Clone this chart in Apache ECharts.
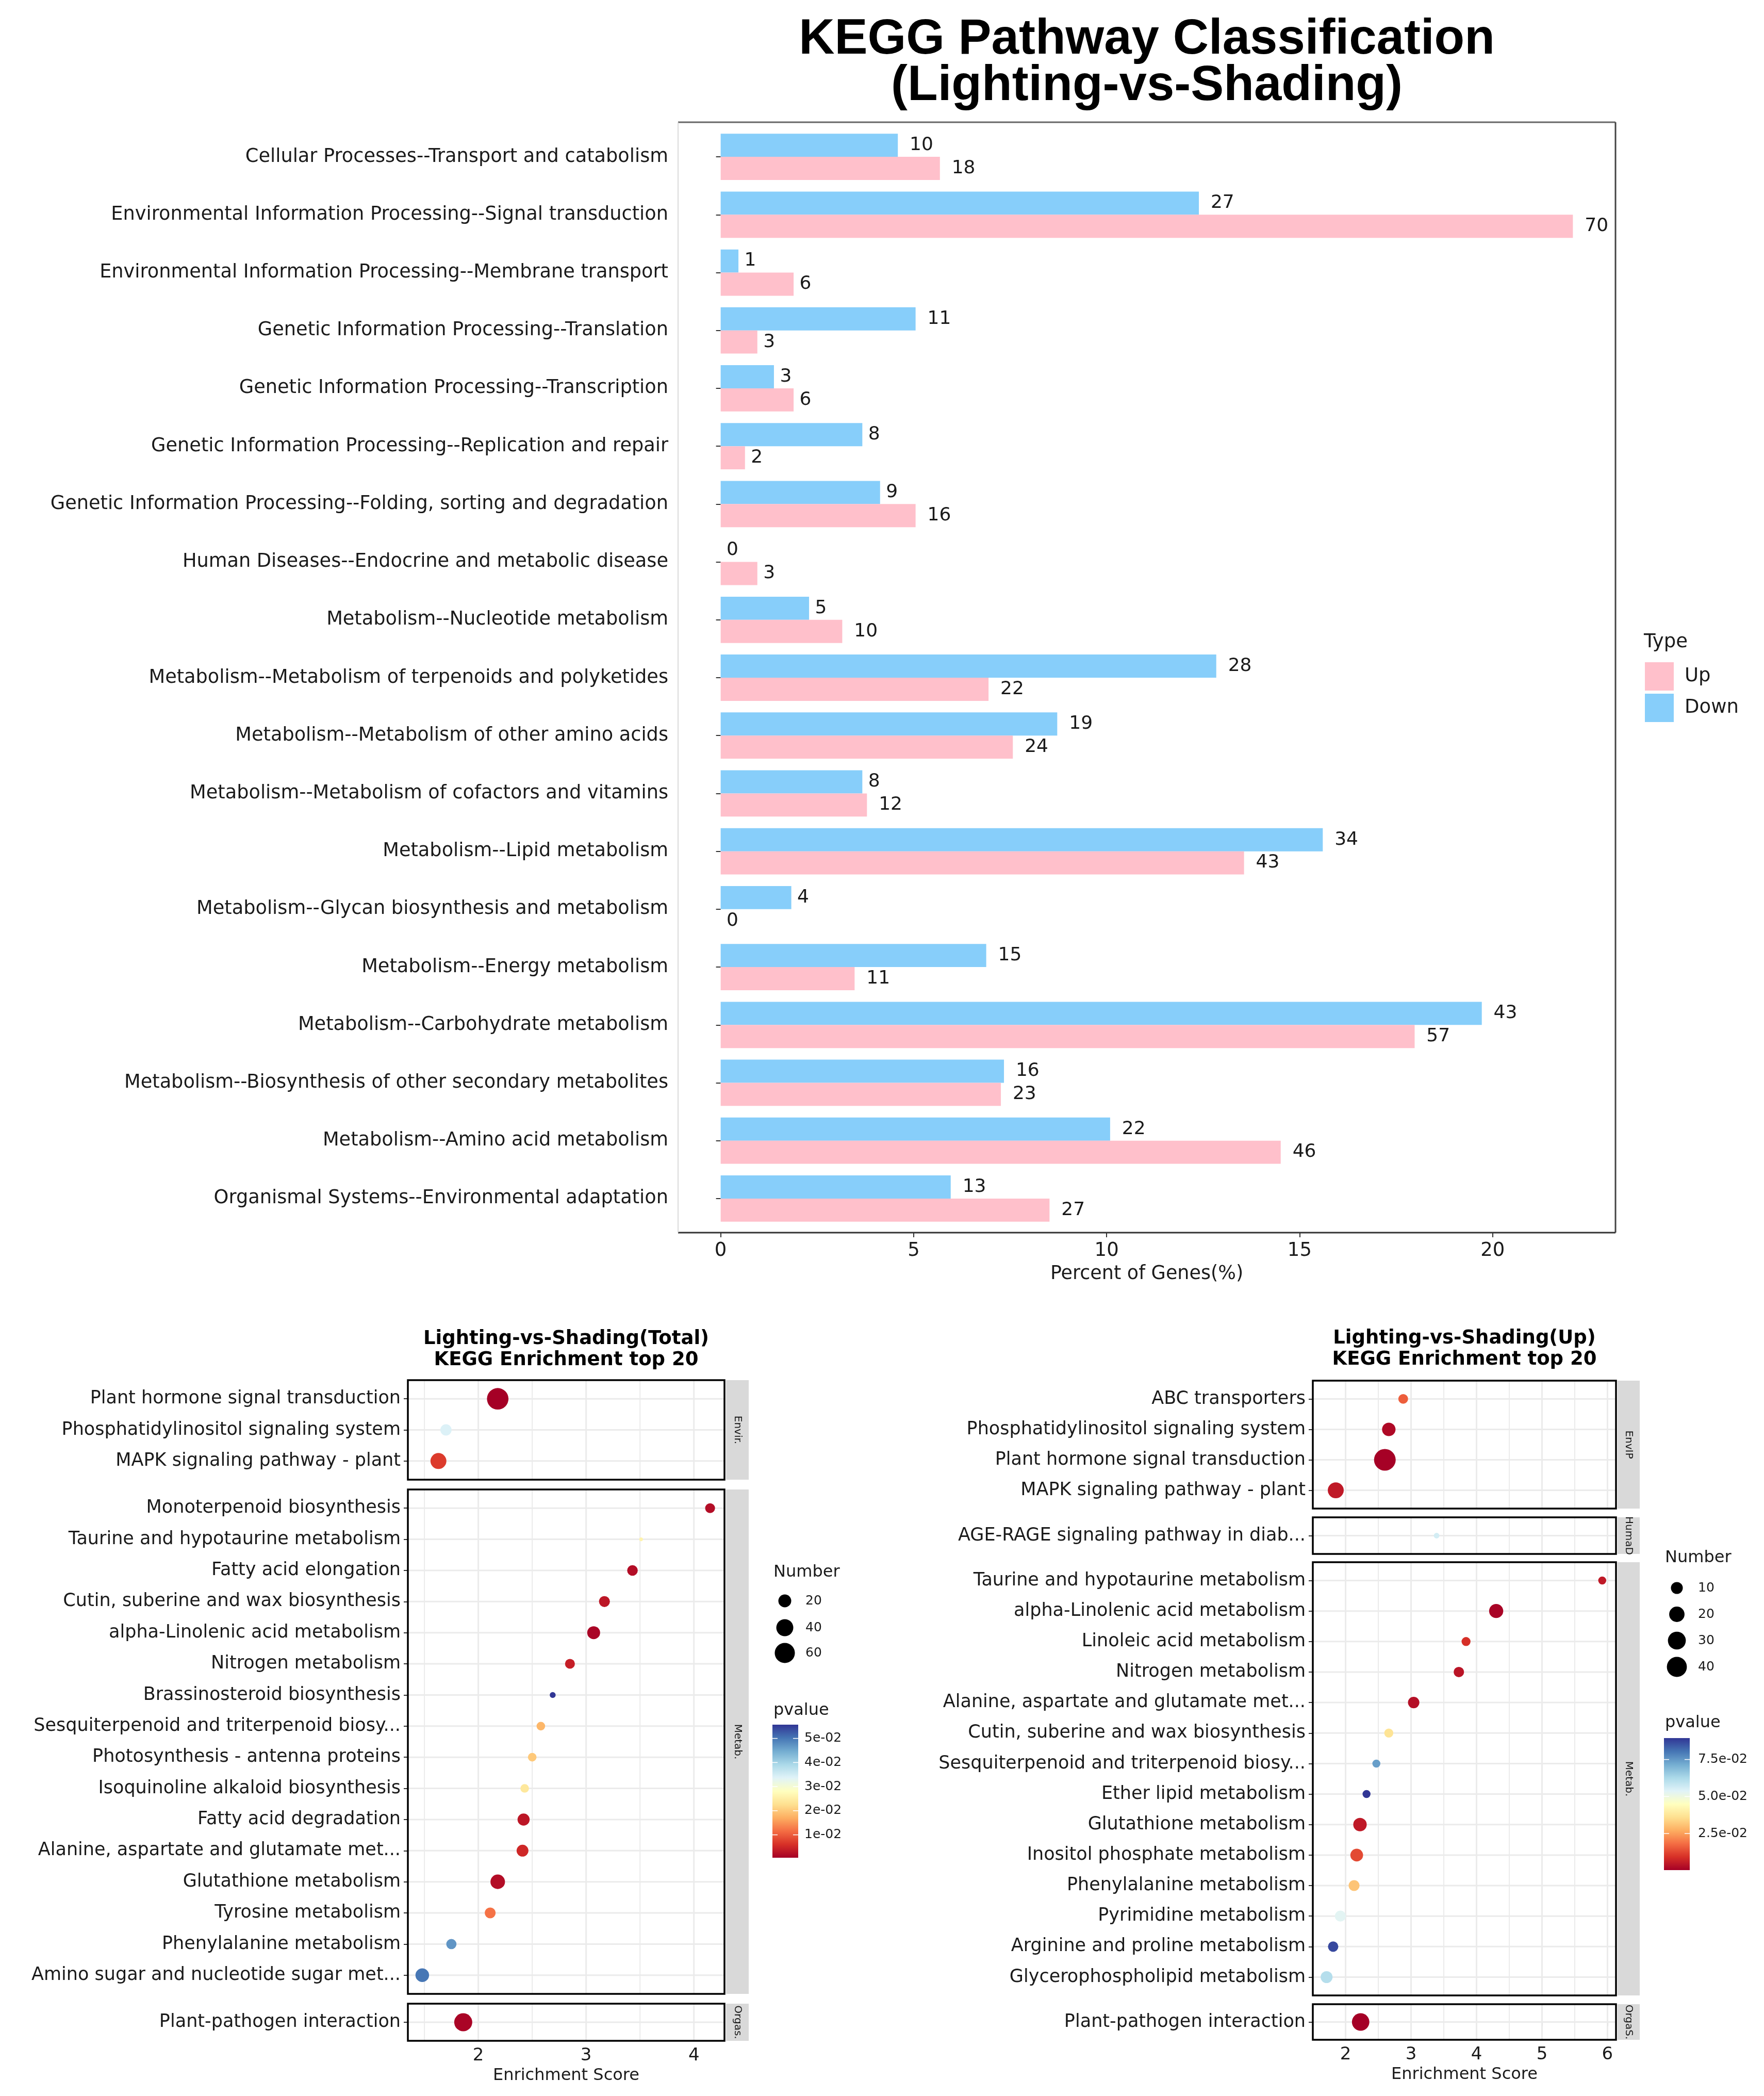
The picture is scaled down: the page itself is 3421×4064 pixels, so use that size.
<!DOCTYPE html>
<html><head><meta charset="utf-8">
<script src="https://cdn.jsdelivr.net/npm/echarts@6/dist/echarts.min.js"></script>
<style>html,body{margin:0;padding:0;background:#fff}#c{width:3421px;height:4064px}</style>
</head><body><div id="c"></div>
<script>
// ---------------- DATA: KEGG classification (top) ----------------
const classCategories = [
  'Cellular Processes--Transport and catabolism',
  'Environmental Information Processing--Signal transduction',
  'Environmental Information Processing--Membrane transport',
  'Genetic Information Processing--Translation',
  'Genetic Information Processing--Transcription',
  'Genetic Information Processing--Replication and repair',
  'Genetic Information Processing--Folding, sorting and degradation',
  'Human Diseases--Endocrine and metabolic disease',
  'Metabolism--Nucleotide metabolism',
  'Metabolism--Metabolism of terpenoids and polyketides',
  'Metabolism--Metabolism of other amino acids',
  'Metabolism--Metabolism of cofactors and vitamins',
  'Metabolism--Lipid metabolism',
  'Metabolism--Glycan biosynthesis and metabolism',
  'Metabolism--Energy metabolism',
  'Metabolism--Carbohydrate metabolism',
  'Metabolism--Biosynthesis of other secondary metabolites',
  'Metabolism--Amino acid metabolism',
  'Organismal Systems--Environmental adaptation'
];
const downCounts = [10,27,1,11,3,8,9,0,5,28,19,8,34,4,15,43,16,22,13];
const upCounts   = [18,70,6,3,6,2,16,3,10,22,24,12,43,0,11,57,23,46,27];
const downPercent = [4.59,12.39,0.46,5.05,1.38,3.67,4.13,0,2.29,12.84,8.72,3.67,15.60,1.83,6.88,19.72,7.34,10.09,5.96];
const upPercent   = [5.68,22.08,1.89,0.95,1.89,0.63,5.05,0.95,3.15,6.94,7.57,3.79,13.56,0,3.47,17.98,7.26,14.51,8.52];
const percentTicks = [0,5,10,15,20];

// ---------------- DATA: Total enrichment (bottom left) ----------------
const totalEnvirNames = ['Plant hormone signal transduction','Phosphatidylinositol signaling system','MAPK signaling pathway - plant'];
const totalEnvirScore = [2.18,1.70,1.63];
const totalEnvirCount = [70,14,34];
const totalEnvirPvalue = [0.0005,0.034,0.007];

const totalMetabNames = ['Monoterpenoid biosynthesis','Taurine and hypotaurine metabolism','Fatty acid elongation',
  'Cutin, suberine and wax biosynthesis','alpha-Linolenic acid metabolism','Nitrogen metabolism','Brassinosteroid biosynthesis',
  'Sesquiterpenoid and triterpenoid biosy...','Photosynthesis - antenna proteins','Isoquinoline alkaloid biosynthesis',
  'Fatty acid degradation','Alanine, aspartate and glutamate met...','Glutathione metabolism','Tyrosine metabolism',
  'Phenylalanine metabolism','Amino sugar and nucleotide sugar met...'];
const totalMetabScore = [4.15,3.51,3.43,3.17,3.07,2.85,2.69,2.58,2.50,2.43,2.42,2.41,2.18,2.11,1.75,1.48];
const totalMetabCount = [10,2,12,13,20,10,3,7,7,7,17,16,27,13,11,23];
const totalMetabPvalue = [0.002,0.026,0.002,0.003,0.001,0.004,0.0557,0.018,0.020,0.024,0.003,0.005,0.002,0.012,0.047,0.050];

const totalOrgasNames = ['Plant-pathogen interaction'];
const totalOrgasScore = [1.86];
const totalOrgasCount = [46];
const totalOrgasPvalue = [0.001];

const totalStripLabels = ['Envir.','Metab.','Orgas.'];
const totalScoreTicks = [2,3,4];
const totalScoreMinor = [1.5,2.5,3.5];
const totalSizeBreaks = [20,40,60];
const totalPTicks = [0.01,0.02,0.03,0.04,0.05];

// ---------------- DATA: Up enrichment (bottom right) ----------------
const upEnvipNames = ['ABC transporters','Phosphatidylinositol signaling system','Plant hormone signal transduction','MAPK signaling pathway - plant'];
const upEnvipScore = [2.88,2.66,2.60,1.85];
const upEnvipCount = [6,14,49,22];
const upEnvipPvalue = [0.016,0.002,0.0005,0.005];

const upHumandNames = ['AGE-RAGE signaling pathway in diab...'];
const upHumandScore = [3.39];
const upHumandCount = [3];
const upHumandPvalue = [0.056];

const upMetabNames = ['Taurine and hypotaurine metabolism','alpha-Linolenic acid metabolism','Linoleic acid metabolism',
  'Nitrogen metabolism','Alanine, aspartate and glutamate met...','Cutin, suberine and wax biosynthesis',
  'Sesquiterpenoid and triterpenoid biosy...','Ether lipid metabolism','Glutathione metabolism','Inositol phosphate metabolism',
  'Phenylalanine metabolism','Pyrimidine metabolism','Arginine and proline metabolism','Glycerophospholipid metabolism'];
const upMetabScore = [5.92,4.30,3.84,3.73,3.04,2.66,2.47,2.32,2.22,2.17,2.13,1.92,1.81,1.71];
const upMetabCount = [4,16,5,7,9,5,4,4,14,12,8,8,7,10];
const upMetabPvalue = [0.005,0.001,0.009,0.004,0.003,0.037,0.074,0.0895,0.005,0.013,0.031,0.053,0.087,0.061];

const upOrgasNames = ['Plant-pathogen interaction'];
const upOrgasScore = [2.23];
const upOrgasCount = [28];
const upOrgasPvalue = [0.0003];

const upStripLabels = ['EnvIP','HumaD','Metab.','OrgaS.'];
const upScoreTicks = [2,3,4,5,6];
const upScoreMinor = [2.5,3.5,4.5,5.5];
const upSizeBreaks = [10,20,30,40];
const upPTicks = [0.025,0.05,0.075];

// ---------------- STYLE / LAYOUT ----------------
const FT = 'Liberation Sans, Arial, sans-serif';
const FB = 'DejaVu Sans, sans-serif';
const RDYLBU = ['#a50026','#d73027','#f46d43','#fdae61','#fee090','#ffffbf','#e0f3f8','#abd9e9','#74add1','#4575b4','#313695'];
const TXT = '#1a1a1a';

const LEFT = {x0:791, x1:1405, sx0:1408, sx1:1452, panels:[[2676,2869],[2888,3866],[3885,3957]],
  titleX:1098, sizeLeg:{titleX:1500, titleY:3049, cx:1522, ys:[3104,3156,3205], labX:1562},
  bar:{titleY:3317, x:1498, y:3344, w:50, h:258, labX:1560}, dRange:[7.3,41.7], expDigits:0};
const RIGHT = {x0:2546, x1:3134, sx0:3137, sx1:3180, panels:[[2677,2925],[2942,3013],[3029,3869],[3886,3955]],
  titleX:2840, sizeLeg:{titleX:3229, titleY:3021, cx:3252, ys:[3079,3130,3181,3232], labX:3293},
  bar:{titleY:3341, x:3227, y:3370, w:50, h:256, labX:3293}, dRange:[10.9,42.0], expDigits:1};

function fmtExp(v, d) {
  const s = v.toExponential(d); const parts = s.split('e');
  const e = parts[1]; const sign = e[0] === '-' ? '-' : '+';
  const num = e.replace(/^[+-]/, '').padStart(2, '0');
  return parts[0] + 'e' + sign + num;
}

const grids = [], xAxes = [], yAxes = [], series = [], graphics = [];

// ---------------- top bar chart ----------------
const maxPct = Math.max(...upPercent, ...downPercent);
const pctMin = -0.05 * maxPct, pctMax = maxPct * 1.05;
grids.push({left:1315, top:248, width:1818, height:2132, outerBoundsMode:'none', containLabel:false});
xAxes.push({gridIndex:0, type:'value', min:pctMin, max:pctMax, offset:10,
  axisLine:{show:false}, splitLine:{show:false},
  axisTick:{show:true, customValues:percentTicks, length:9, lineStyle:{color:'#333', width:2}},
  axisLabel:{customValues:percentTicks, fontSize:37, fontFamily:FB, color:TXT, margin:17},
  name:'Percent of Genes(%)', nameLocation:'middle', nameGap:62,
  nameTextStyle:{fontSize:36.5, fontFamily:FB, color:TXT}});
yAxes.push({gridIndex:0, type:'category', inverse:true, data:classCategories,
  axisLine:{show:false}, splitLine:{show:false},
  axisTick:{show:true, alignWithLabel:true, length:9, lineStyle:{color:'#333', width:2}},
  axisLabel:{fontSize:36.7, fontFamily:FB, color:TXT, margin:19}});
function barSeries(name, pct, counts, color) {
  return {type:'bar', name, xAxisIndex:0, yAxisIndex:0, barGap:'0%', barCategoryGap:'20%',
    itemStyle:{color}, z:3,
    data: pct.map((v, i) => ({value:v, label:{distance: String(counts[i]).length * 0.636 * 36 / 2}})),
    label:{show:true, position:'right', fontSize:36, fontFamily:FB, color:TXT,
      formatter: p => String(counts[p.dataIndex])}};
}
series.push(barSeries('Down', downPercent, downCounts, '#87CEFA'));
series.push(barSeries('Up', upPercent, upCounts, '#FFC0CB'));

// top panel border
graphics.push({type:'line', shape:{x1:1315, y1:237, x2:3133, y2:237}, style:{stroke:'#666', lineWidth:3}, z:100});
graphics.push({type:'line', shape:{x1:3133, y1:237, x2:3133, y2:2390}, style:{stroke:'#444', lineWidth:3}, z:100});
graphics.push({type:'line', shape:{x1:1315, y1:2390, x2:3133, y2:2390}, style:{stroke:'#333', lineWidth:3}, z:100});
graphics.push({type:'line', shape:{x1:1315, y1:237, x2:1315, y2:2390}, style:{stroke:'#cfcfcf', lineWidth:1.5}, z:100});
graphics.push({type:'text', x:3188, y:1245, style:{text:'Type', fill:TXT, font:'37px ' + FB,
  textAlign:'left', align:'left', textVerticalAlign:'middle', verticalAlign:'middle'}, z:100});

// ---------------- dot charts ----------------
function addDotChart(facets, stripLabels, L, ticks, minors, sizeBreaks, pTicks) {
  const allScores = [].concat(...facets.map(f => f.score));
  const allCounts = [].concat(...facets.map(f => f.count));
  const allP = [].concat(...facets.map(f => f.p));
  const sMin = Math.min(...allScores), sMax = Math.max(...allScores);
  const xr = [sMin - 0.05 * (sMax - sMin), sMax + 0.05 * (sMax - sMin)];
  const nMin = Math.min(...allCounts), nMax = Math.max(...allCounts);
  const pMin = Math.min(...allP), pMax = Math.max(...allP);
  const sizeFn = n => L.dRange[0] + (L.dRange[1] - L.dRange[0]) * Math.sqrt(Math.max(0, (n - nMin) / (nMax - nMin)));
  const scatterIdx = [];
  facets.forEach((f, k) => {
    const gi = grids.length;
    const t = L.panels[k][0], b = L.panels[k][1];
    const n = f.names.length;
    const last = k === facets.length - 1;
    grids.push({left:L.x0, top:t, width:L.x1 - L.x0, height:b - t, outerBoundsMode:'none', containLabel:false});
    xAxes.push({gridIndex:gi, type:'value', min:xr[0], max:xr[1],
      axisLine:{show:false}, splitLine:{show:false},
      axisTick: last ? {show:true, customValues:ticks, length:8, lineStyle:{color:'#333', width:2}} : {show:false},
      axisLabel: last ? {show:true, customValues:ticks, fontSize:34, fontFamily:FB, color:TXT, margin:12} : {show:false},
      name: last ? 'Enrichment Score' : '', nameLocation:'middle', nameGap:52,
      nameTextStyle:{fontSize:32, fontFamily:FB, color:TXT}});
    const idx = f.names.map((_, i) => i);
    const names = f.names;
    yAxes.push({gridIndex:gi, type:'value', inverse:true, min:-0.6, max:n - 0.4,
      axisLine:{show:false}, splitLine:{show:false},
      axisTick:{show:true, customValues:idx, length:8, lineStyle:{color:'#333', width:2}},
      axisLabel:{customValues:idx, fontSize:35, fontFamily:FB, color:TXT, margin:14,
        formatter: v => names[Math.round(v)] || ''}});
    const glData = [];
    idx.forEach(i => glData.push([xr[0], i, 0]));
    ticks.forEach(x => { if (x > xr[0] && x < xr[1]) glData.push([x, -0.6, 1]); });
    minors.forEach(x => { if (x > xr[0] && x < xr[1]) glData.push([x, -0.6, 2]); });
    series.push({type:'custom', xAxisIndex:gi, yAxisIndex:gi, silent:true, z:1, data:glData,
      renderItem: (params, api) => {
        const kind = api.value(2);
        let p1, p2;
        if (kind === 0) { p1 = api.coord([xr[0], api.value(1)]); p2 = api.coord([xr[1], api.value(1)]); }
        else { p1 = api.coord([api.value(0), -0.6]); p2 = api.coord([api.value(0), n - 0.4]); }
        return {type:'line', shape:{x1:p1[0], y1:p1[1], x2:p2[0], y2:p2[1]},
          style:{stroke:'#ebebeb', lineWidth: kind === 2 ? 2 : 3}};
      }});
    scatterIdx.push(series.length);
    series.push({type:'scatter', xAxisIndex:gi, yAxisIndex:gi, z:5, symbol:'circle',
      data: f.names.map((nm, i) => [f.score[i], i, f.count[i], f.p[i], nm]),
      symbolSize: v => sizeFn(v[2]), itemStyle:{opacity:1}, emphasis:{disabled:true}});
    graphics.push({type:'rect', shape:{x:L.x0, y:t, width:L.x1 - L.x0, height:b - t},
      style:{fill:'none', stroke:'#000', lineWidth:3.5}, z:100});
    graphics.push({type:'rect', shape:{x:L.sx0, y:t, width:L.sx1 - L.sx0, height:b - t},
      style:{fill:'#d9d9d9', stroke:'none'}, z:90});
    graphics.push({type:'text', x:(L.sx0 + L.sx1) / 2, y:(t + b) / 2, rotation:-Math.PI / 2,
      style:{text:stripLabels[k], fill:'#1a1a1a', font:'20px ' + FB, textAlign:'center', align:'center',
        textVerticalAlign:'middle', verticalAlign:'middle'}, z:95});
  });
  const S = L.sizeLeg;
  graphics.push({type:'text', x:S.titleX, y:S.titleY, style:{text:'Number', fill:TXT, font:'32px ' + FB,
    textAlign:'left', align:'left', textVerticalAlign:'middle', verticalAlign:'middle'}, z:100});
  sizeBreaks.forEach((nb, i) => {
    graphics.push({type:'circle', shape:{cx:S.cx, cy:S.ys[i], r:sizeFn(nb) / 2}, style:{fill:'#000'}, z:100});
    graphics.push({type:'text', x:S.labX, y:S.ys[i], style:{text:String(nb), fill:TXT, font:'25px ' + FB,
      textAlign:'left', align:'left', textVerticalAlign:'middle', verticalAlign:'middle'}, z:100});
  });
  const B = L.bar;
  graphics.push({type:'text', x:S.titleX, y:B.titleY, style:{text:'pvalue', fill:TXT, font:'32px ' + FB,
    textAlign:'left', align:'left', textVerticalAlign:'middle', verticalAlign:'middle'}, z:100});
  const stops = RDYLBU.slice().reverse().map((c, i) => ({offset:i / (RDYLBU.length - 1), color:c}));
  graphics.push({type:'rect', shape:{x:B.x, y:B.y, width:B.w, height:B.h},
    style:{fill:{type:'linear', x:0, y:0, x2:0, y2:1, colorStops:stops}}, z:100});
  pTicks.forEach(pv => {
    const yy = B.y + (pMax - pv) / (pMax - pMin) * B.h;
    graphics.push({type:'line', shape:{x1:B.x, y1:yy, x2:B.x + 10, y2:yy}, style:{stroke:'#fff', lineWidth:1.5}, z:101});
    graphics.push({type:'line', shape:{x1:B.x + B.w - 10, y1:yy, x2:B.x + B.w, y2:yy}, style:{stroke:'#fff', lineWidth:1.5}, z:101});
    graphics.push({type:'text', x:B.labX, y:yy, style:{text:fmtExp(pv, L.expDigits), fill:TXT, font:'25px ' + FB,
      textAlign:'left', align:'left', textVerticalAlign:'middle', verticalAlign:'middle'}, z:100});
  });
  return {scatterIdx, pMin, pMax};
}

const totalRes = addDotChart([
  {names:totalEnvirNames, score:totalEnvirScore, count:totalEnvirCount, p:totalEnvirPvalue},
  {names:totalMetabNames, score:totalMetabScore, count:totalMetabCount, p:totalMetabPvalue},
  {names:totalOrgasNames, score:totalOrgasScore, count:totalOrgasCount, p:totalOrgasPvalue}
], totalStripLabels, LEFT, totalScoreTicks, totalScoreMinor, totalSizeBreaks, totalPTicks);

const upRes = addDotChart([
  {names:upEnvipNames, score:upEnvipScore, count:upEnvipCount, p:upEnvipPvalue},
  {names:upHumandNames, score:upHumandScore, count:upHumandCount, p:upHumandPvalue},
  {names:upMetabNames, score:upMetabScore, count:upMetabCount, p:upMetabPvalue},
  {names:upOrgasNames, score:upOrgasScore, count:upOrgasCount, p:upOrgasPvalue}
], upStripLabels, RIGHT, upScoreTicks, upScoreMinor, upSizeBreaks, upPTicks);

const chart = echarts.init(document.getElementById('c'), null, {renderer:'canvas', width:3421, height:4064});
chart.setOption({
  backgroundColor:'#ffffff',
  animation:false,
  title:[
    {text:'KEGG Pathway Classification\n(Lighting-vs-Shading)', left:2224, top:33, textAlign:'center', padding:0,
      textStyle:{fontFamily:FT, fontSize:96, fontWeight:'bold', lineHeight:90, color:'#000'}},
    {text:'Lighting-vs-Shading(Total)\nKEGG Enrichment top 20', left:LEFT.titleX, top:2576, textAlign:'center', padding:0,
      textStyle:{fontFamily:FB, fontSize:37, fontWeight:'bold', lineHeight:41, color:'#000'}},
    {text:'Lighting-vs-Shading(Up)\nKEGG Enrichment top 20', left:RIGHT.titleX, top:2575, textAlign:'center', padding:0,
      textStyle:{fontFamily:FB, fontSize:37, fontWeight:'bold', lineHeight:41, color:'#000'}}
  ],
  legend:{data:['Up','Down'], left:3190, top:1284, orient:'vertical', itemWidth:56, itemHeight:55, itemGap:6,
    icon:'rect', padding:0, selectedMode:false,
    textStyle:{fontSize:37, fontFamily:FB, color:TXT, padding:[0,0,0,16]}},
  grid:grids, xAxis:xAxes, yAxis:yAxes,
  visualMap:[
    {type:'continuous', show:false, seriesIndex:totalRes.scatterIdx, dimension:3, min:totalRes.pMin, max:totalRes.pMax,
      inRange:{color:RDYLBU}},
    {type:'continuous', show:false, seriesIndex:upRes.scatterIdx, dimension:3, min:upRes.pMin, max:upRes.pMax,
      inRange:{color:RDYLBU}}
  ],
  series:series,
  graphic:{elements:graphics}
});
</script></body></html>
